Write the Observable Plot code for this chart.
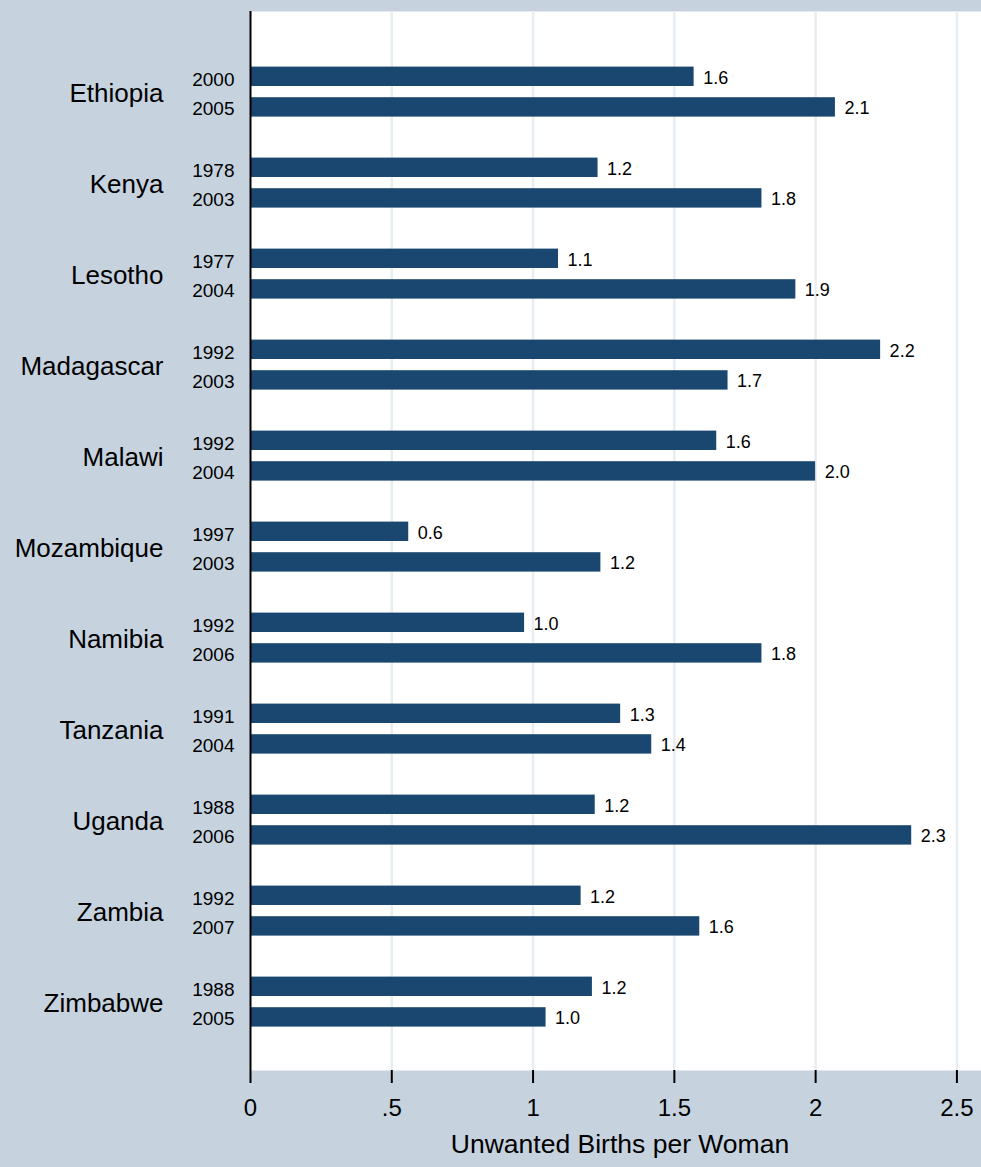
<!DOCTYPE html>
<html><head><meta charset="utf-8">
<script src="https://cdn.jsdelivr.net/npm/d3@7"></script>
<script src="https://cdn.jsdelivr.net/npm/@observablehq/plot@0.6"></script>
<style>html,body{margin:0;padding:0;background:#c6d3df;} svg{display:block;}</style>
</head><body><div id="chart"></div>
<script>
const countries = ["Ethiopia","Kenya","Lesotho","Madagascar","Malawi","Mozambique","Namibia","Tanzania","Uganda","Zambia","Zimbabwe"];
const firstYears = [2000,1978,1977,1992,1992,1997,1992,1991,1988,1992,1988];
const secondYears = [2005,2003,2004,2003,2004,2003,2006,2004,2006,2007,2005];
const firstValues = [1.57,1.23,1.09,2.23,1.65,0.56,0.97,1.31,1.22,1.17,1.21];
const secondValues = [2.07,1.81,1.93,1.69,2.00,1.24,1.81,1.42,2.34,1.59,1.046];
const xTicks = [0,0.5,1,1.5,2,2.5];
const xTickLabels = ["0",".5","1","1.5","2","2.5"];
const xTitle = "Unwanted Births per Woman";

const first = countries.map((c,i)=>({country:c, year:firstYears[i], value:firstValues[i]}));
const second = countries.map((c,i)=>({country:c, year:secondYears[i], value:secondValues[i]}));
const fmt = d3.format(".1f");
const barColor = "#1a476f";

const chart = Plot.plot({
  width: 981,
  height: 1167,
  marginLeft: 250,
  marginRight: 0,
  marginTop: 11,
  marginBottom: 97,
  style: {fontFamily: "'Liberation Sans', Arial, sans-serif", background: "#c6d3df", color: "black"},
  x: {domain: [0, 2.587]},
  y: {domain: countries, paddingInner: 0, paddingOuter: 0.283, align: 0.6},
  marks: [
    Plot.frame({fill: "white", stroke: null}),
    Plot.gridX(xTicks.filter(t => t > 0), {stroke: "#e6eef1", strokeOpacity: 1, strokeWidth: 2.5}),
    Plot.barX(first, {x: "value", y: "country", fill: barColor, insetTop: 20.6, insetBottom: 51}),
    Plot.barX(second, {x: "value", y: "country", fill: barColor, insetTop: 51.2, insetBottom: 20.4}),
    Plot.text(first, {x: "value", y: "country", text: d => fmt(d.value), textAnchor: "start", dx: 9, dy: -13.5, fontSize: 18, fill: "black"}),
    Plot.text(second, {x: "value", y: "country", text: d => fmt(d.value), textAnchor: "start", dx: 9, dy: 16.5, fontSize: 18, fill: "black"}),
    Plot.text(first, {frameAnchor: "left", y: "country", text: d => String(d.year), textAnchor: "end", dx: -16, dy: -12.5, fontSize: 19, fill: "black"}),
    Plot.text(second, {frameAnchor: "left", y: "country", text: d => String(d.year), textAnchor: "end", dx: -16, dy: 16.8, fontSize: 19, fill: "black"}),
    Plot.ruleX([0], {stroke: "black", strokeWidth: 2}),
    Plot.axisX({ticks: xTicks, tickFormat: d => xTickLabels[xTicks.indexOf(d)], tickSize: 13, tickPadding: 15, fontSize: 24, label: null, line: true, strokeWidth: 2, stroke: "black"}),
    Plot.axisY({tickSize: 0, tickPadding: 87, fontSize: 26, label: null, dy: 2}),
    Plot.text([xTitle], {frameAnchor: "bottom", dy: 82, dx: 4, fontSize: 26.5, fill: "black"})
  ]
});
document.getElementById("chart").appendChild(chart);
</script>
</body></html>
